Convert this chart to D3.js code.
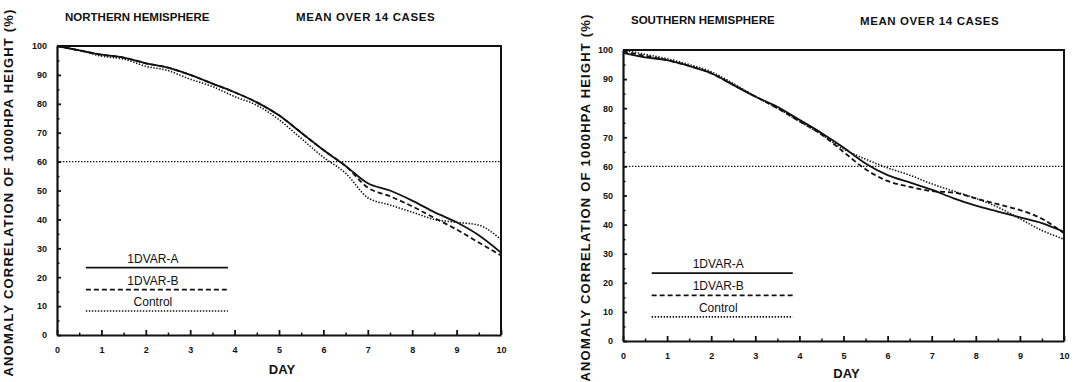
<!DOCTYPE html>
<html>
<head>
<meta charset="utf-8">
<script src="https://cdn.jsdelivr.net/npm/d3@7"></script>
<style>
  body { margin: 0; background: #fff; }
  svg { display: block; }
  text { font-family: "Liberation Sans", Arial, sans-serif; fill: #111; }
</style>
</head>
<body>
<div id="container"></div>
<script>
// forecast day, every 12 hours
const days = [0, 0.5, 1, 1.5, 2, 2.5, 3, 3.5, 4, 4.5, 5, 5.5, 6, 6.5, 7, 7.5, 8, 8.5, 9, 9.5, 10];

// northern hemisphere anomaly correlation (%)
const nhVarA    = [100, 98.5, 97, 96, 94, 92.5, 90, 87, 84, 80.5, 76, 70, 64, 58.5, 52.5, 50, 46.5, 42.5, 39, 34.5, 28.5];
const nhVarB    = [100, 98.5, 97, 96, 94, 92.5, 90, 87, 84, 80.5, 76, 70, 64, 58.5, 51, 48, 44.5, 40.5, 36.5, 32, 27.5];
const nhControl = [100, 98.5, 96.5, 95.5, 93, 91.5, 88.5, 86, 82.5, 79.5, 74.5, 68, 61.5, 56, 47.5, 45, 42.5, 40, 39, 38, 33];

// southern hemisphere anomaly correlation (%)
const shVarA    = [99, 97.5, 96.5, 94.5, 92, 88, 84, 80.5, 76, 71.5, 66.5, 61, 57, 54.5, 52, 49, 46.5, 44.5, 42.5, 40.5, 37.5];
const shVarB    = [99.5, 98, 96.5, 94.5, 92, 88, 84, 80, 75.5, 71, 65, 59, 55, 53, 51.5, 51, 49, 47, 45, 42, 37];
const shControl = [100, 98.5, 97, 95, 92.5, 88.5, 84, 80, 75.5, 71, 66, 62.5, 59.5, 57, 54, 51.5, 49, 46, 42, 38, 35];

const xTicks = [0, 1, 2, 3, 4, 5, 6, 7, 8, 9, 10];
const yTicks = [0, 10, 20, 30, 40, 50, 60, 70, 80, 90, 100];
const refLevel = 60;

const seriesNames = ["1DVAR-A", "1DVAR-B", "Control"];
const legendLevels = [23.3, 15.7, 8.3];
const legendSpan = [0.65, 3.85];

const width = 1091;
const height = 382;

const styles = [
  { dash: null, w: 1.8 },
  { dash: "5,3", w: 1.8 },
  { dash: "1.4,1.6", w: 1.6 }
];

const svg = d3.select("#container")
  .append("svg")
  .attr("width", width)
  .attr("height", height)
  .attr("viewBox", [0, 0, width, height]);

const panels = [
  {
    title: "NORTHERN HEMISPHERE", titleX: 65, titleY: 21, meanX: 296, meanY: 21,
    x0: 57, x1: 501, y0: 335, y1: 46, labelX: 13, dayY: 374,
    series: [nhVarA, nhVarB, nhControl]
  },
  {
    title: "SOUTHERN HEMISPHERE", titleX: 631, titleY: 24, meanX: 860, meanY: 25,
    x0: 623, x1: 1064, y0: 341, y1: 50, labelX: 590, dayY: 378,
    series: [shVarA, shVarB, shControl]
  }
];

panels.forEach(p => {
  const x = d3.scaleLinear([0, 10], [p.x0, p.x1]);
  const y = d3.scaleLinear([0, 100], [p.y0, p.y1]);
  const g = svg.append("g");

  // titles
  g.append("text")
    .attr("x", p.titleX).attr("y", p.titleY)
    .attr("font-size", 11.5).attr("font-weight", "bold")
    .text(p.title);
  g.append("text")
    .attr("x", p.meanX).attr("y", p.meanY)
    .attr("font-size", 11.5).attr("font-weight", "bold")
    .attr("letter-spacing", 0.6)
    .text("MEAN OVER 14 CASES");

  // y label
  g.append("text")
    .attr("transform", `translate(${p.labelX},${(p.y0 + p.y1) / 2 + 2}) rotate(-90)`)
    .attr("text-anchor", "middle")
    .attr("font-size", 13).attr("font-weight", "bold")
    .attr("letter-spacing", 1.2)
    .text("ANOMALY CORRELATION  OF 1000HPA HEIGHT (%)");

  // minor ticks
  g.append("g")
    .attr("transform", `translate(0,${p.y0})`)
    .call(d3.axisBottom(x).tickValues(d3.range(0.5, 10, 1)).tickSize(-2.5).tickFormat(""))
    .call(a => a.select(".domain").remove())
    .selectAll("line").attr("stroke", "#111").attr("stroke-width", 1.5);
  g.append("g")
    .attr("transform", `translate(${p.x0},0)`)
    .call(d3.axisLeft(y).tickValues(d3.range(5, 100, 10)).tickSize(-2.5).tickFormat(""))
    .call(a => a.select(".domain").remove())
    .selectAll("line").attr("stroke", "#111").attr("stroke-width", 1.5);

  // x axis
  const xa = g.append("g")
    .attr("transform", `translate(0,${p.y0})`)
    .call(d3.axisBottom(x).tickValues(xTicks).tickSize(-5).tickSizeOuter(0).tickPadding(12));
  xa.select(".domain").attr("stroke", "#111").attr("stroke-width", 2.2);
  xa.selectAll("line").attr("stroke", "#111").attr("stroke-width", 1.8);
  xa.selectAll("text")
    .attr("font-size", 9).attr("font-weight", "bold")
    .attr("font-family", "Liberation Sans, Arial, sans-serif").attr("fill", "#111");

  // y axis
  const ya = g.append("g")
    .attr("transform", `translate(${p.x0},0)`)
    .call(d3.axisLeft(y).tickValues(yTicks).tickSize(-4).tickSizeOuter(0).tickPadding(10));
  ya.select(".domain").attr("stroke", "#111").attr("stroke-width", 2.2);
  ya.selectAll("line").attr("stroke", "#111").attr("stroke-width", 1.8);
  ya.selectAll("text")
    .attr("font-size", 9).attr("font-weight", "bold")
    .attr("font-family", "Liberation Sans, Arial, sans-serif").attr("fill", "#111");

  // top and right frame
  g.append("path")
    .attr("d", `M${x(0)},${y(100)}H${x(10)}V${y(0)}`)
    .attr("fill", "none").attr("stroke", "#111").attr("stroke-width", 2);

  // DAY label
  g.append("text")
    .attr("x", (p.x0 + p.x1) / 2 + 3).attr("y", p.dayY)
    .attr("text-anchor", "middle")
    .attr("font-size", 13).attr("font-weight", "bold")
    .text("DAY");

  // reference level
  g.append("line")
    .attr("x1", x(0)).attr("x2", x(10))
    .attr("y1", y(refLevel)).attr("y2", y(refLevel))
    .attr("stroke", "#111").attr("stroke-width", 1.3)
    .attr("stroke-dasharray", "1.4,1.6");

  const line = d3.line()
    .x((d, i) => x(days[i]))
    .y(d => y(d))
    .curve(d3.curveMonotoneX);

  p.series.forEach((s, k) => {
    g.append("path")
      .datum(s)
      .attr("d", line)
      .attr("fill", "none")
      .attr("stroke", "#111")
      .attr("stroke-width", styles[k].w)
      .attr("stroke-dasharray", styles[k].dash);
  });

  // legend
  seriesNames.forEach((name, k) => {
    g.append("line")
      .attr("x1", x(legendSpan[0])).attr("x2", x(legendSpan[1]))
      .attr("y1", y(legendLevels[k])).attr("y2", y(legendLevels[k]))
      .attr("stroke", "#111")
      .attr("stroke-width", styles[k].w)
      .attr("stroke-dasharray", styles[k].dash);
    g.append("text")
      .attr("x", x(2.16)).attr("y", y(legendLevels[k]) - 5)
      .attr("text-anchor", "middle")
      .attr("font-size", 12)
      .text(name);
  });
});
</script>
</body>
</html>
